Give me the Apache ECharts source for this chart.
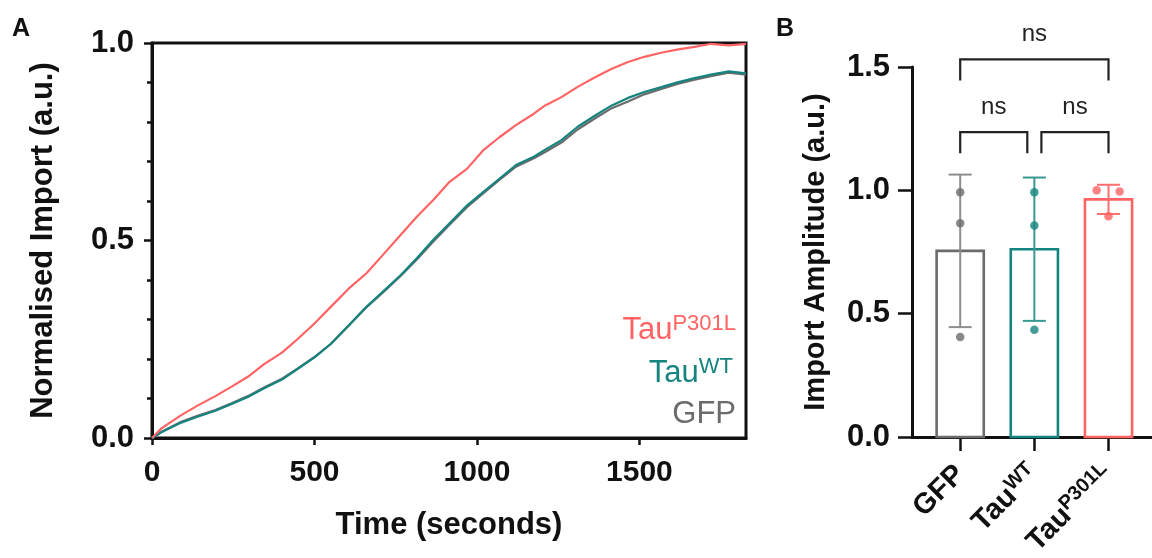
<!DOCTYPE html>
<html>
<head>
<meta charset="utf-8">
<script src="https://cdn.jsdelivr.net/npm/echarts@6/dist/echarts.min.js"></script>
<style>
  html, body { margin: 0; padding: 0; background: #fff; }
  #chart { width: 1152px; height: 558px; }
</style>
</head>
<body>
<div id="chart"></div>
<script>
// ---- Panel A: normalised import kinetics ----
const timeSec = [0, 30, 90, 140, 195, 245, 295, 345, 400, 450, 500, 550, 605, 660, 710, 765, 815, 865, 915,
  970, 1020, 1070, 1120, 1175, 1210, 1260, 1310, 1365, 1415, 1465, 1515, 1570, 1620, 1670, 1720, 1775, 1828];
const importP301L = [0, 0.025, 0.058, 0.082, 0.106, 0.130, 0.155, 0.187, 0.216, 0.252, 0.290, 0.332, 0.378,
  0.417, 0.463, 0.514, 0.560, 0.602, 0.648, 0.682, 0.729, 0.762, 0.792, 0.821, 0.842, 0.863, 0.889, 0.914,
  0.935, 0.952, 0.965, 0.976, 0.984, 0.990, 0.998, 0.994, 0.998];
const importWT = [0, 0.015, 0.039, 0.054, 0.069, 0.086, 0.104, 0.126, 0.148, 0.176, 0.204, 0.238, 0.285,
  0.332, 0.370, 0.412, 0.455, 0.501, 0.543, 0.589, 0.623, 0.657, 0.691, 0.712, 0.730, 0.754, 0.788, 0.817,
  0.842, 0.861, 0.876, 0.889, 0.901, 0.911, 0.920, 0.928, 0.923];
const importGFP = [0, 0.016, 0.041, 0.056, 0.071, 0.088, 0.106, 0.128, 0.150, 0.177, 0.205, 0.238, 0.284,
  0.331, 0.368, 0.410, 0.452, 0.497, 0.539, 0.585, 0.620, 0.654, 0.687, 0.708, 0.724, 0.748, 0.781, 0.810,
  0.835, 0.852, 0.870, 0.884, 0.897, 0.907, 0.916, 0.925, 0.920];
const xTicksA = [0, 500, 1000, 1500];
const yTicksA = [0, 0.5, 1.0];

// ---- Panel B: import amplitude per replicate ----
const groupLabels = [['GFP', ''], ['Tau', 'WT'], ['Tau', 'P301L']];
const ampGFP = [0.992, 0.867, 0.405];
const ampWT = [0.992, 0.857, 0.435];
const ampP301L = [1.000, 0.995, 0.895];
const comparisons = [[0, 1, 'ns'], [1, 2, 'ns'], [0, 2, 'ns']];
const yTicksB = [0, 0.5, 1.0, 1.5];

// ---- styling ----
const FONT = '"Liberation Sans", Arial, Helvetica, sans-serif';
const INK = '#111111';
const COL = { gfp: '#6b6b6b', wt: '#15847e', p301l: '#ff6363' };
const ERR = { gfp: '#8d8d8d', wt: '#3a9893', p301l: '#ff6f6f' };
const groupKeys = ['gfp', 'wt', 'p301l'];
const replicates = [ampGFP, ampWT, ampP301L];

const pairs = (xs, ys) => xs.map((x, i) => [x, ys[i]]);
const mean = a => a.reduce((s, v) => s + v, 0) / a.length;
const sd = a => { const m = mean(a); return Math.sqrt(a.reduce((s, v) => s + (v - m) * (v - m), 0) / (a.length - 1)); };

const barStats = replicates.map((a, i) => [i, mean(a), sd(a)]);

// spread replicate dots that would sit on top of each other
const dotData = [];
replicates.forEach((vals, gi) => {
  vals.forEach((v, k) => {
    const close = vals.map((w, m) => m).filter(m => Math.abs(vals[m] - v) < 0.03);
    let off = 0;
    if (close.length > 1) off = close.indexOf(k) === 0 ? -0.16 : 0.15;
    dotData.push({ value: [gi + off, v], itemStyle: { color: COL[groupKeys[gi]] } });
  });
});

const bracketLevel = { 1: 1.236, 2: 1.531 };
const legDrop = 0.086;
const innerInset = 0.095;

const tickFmt = v => v.toFixed(1);

const chart = echarts.init(document.getElementById('chart'), null, { renderer: 'canvas' });

chart.setOption({
  animation: false,
  backgroundColor: '#ffffff',
  textStyle: { fontFamily: FONT },
  grid: [
    { left: 152, top: 43, width: 594, height: 395, show: true, borderColor: INK, borderWidth: 3,
      backgroundColor: 'transparent', outerBoundsMode: 'none', containLabel: false },
    { left: 912, top: 67, width: 241, height: 370, outerBoundsMode: 'none', containLabel: false }
  ],
  xAxis: [
    {
      gridIndex: 0, type: 'value', min: 0, max: 1828,
      name: 'Time (seconds)', nameLocation: 'middle', nameGap: 72,
      nameTextStyle: { fontFamily: FONT, fontWeight: 'bold', fontSize: 31, color: INK },
      axisLine: { show: true, onZero: false, lineStyle: { color: INK, width: 3 } },
      axisTick: { show: true, length: 7, customValues: xTicksA, lineStyle: { color: INK, width: 2.5 } },
      axisLabel: { customValues: xTicksA, formatter: v => String(v), margin: 20, fontFamily: FONT, fontWeight: 'bold', fontSize: 30, color: INK },
      splitLine: { show: false }
    },
    {
      gridIndex: 1, type: 'value', min: -0.65, max: 2.6,
      axisLine: { show: true, onZero: false, lineStyle: { color: INK, width: 3 } },
      axisTick: { show: true, length: 14, customValues: [0, 1, 2], lineStyle: { color: INK, width: 2.5 } },
      axisLabel: {
        customValues: [0, 1, 2], rotate: 45, margin: 33,
        formatter: v => {
          const [base, sup] = groupLabels[Math.round(v)];
          return sup ? '{b|' + base + '}{s|' + sup + '}' : '{b|' + base + '}';
        },
        rich: {
          b: { fontFamily: FONT, fontWeight: 'bold', fontSize: 29, color: INK, lineHeight: 33 },
          s: { fontFamily: FONT, fontWeight: 'bold', fontSize: 20, color: INK, lineHeight: 24, verticalAlign: 'top' }
        }
      },
      splitLine: { show: false }
    }
  ],
  yAxis: [
    {
      gridIndex: 0, type: 'value', min: 0, max: 1, interval: 0.5,
      name: 'Normalised Import (a.u.)', nameLocation: 'middle', nameGap: 93,
      nameTextStyle: { fontFamily: FONT, fontWeight: 'bold', fontSize: 31, color: INK },
      axisLine: { show: true, onZero: false, lineStyle: { color: INK, width: 3 } },
      axisTick: { show: true, length: 8, lineStyle: { color: INK, width: 2.5 } },
      minorTick: { show: true, splitNumber: 5, length: 5, lineStyle: { color: INK, width: 2.5 } },
      axisLabel: { customValues: yTicksA, formatter: tickFmt, margin: 18, fontFamily: FONT, fontWeight: 'bold', fontSize: 31, color: INK },
      splitLine: { show: false }, minorSplitLine: { show: false }
    },
    {
      gridIndex: 1, type: 'value', min: 0, max: 1.5, interval: 0.5,
      name: 'Import Amplitude (a.u.)', nameLocation: 'middle', nameGap: 82,
      nameTextStyle: { fontFamily: FONT, fontWeight: 'bold', fontSize: 29, color: INK },
      axisLine: { show: true, onZero: false, lineStyle: { color: INK, width: 3 } },
      axisTick: { show: true, length: 14, lineStyle: { color: INK, width: 2.5 } },
      axisLabel: { customValues: yTicksB, formatter: tickFmt, margin: 22, fontFamily: FONT, fontWeight: 'bold', fontSize: 31, color: INK },
      splitLine: { show: false }
    }
  ],
  graphic: [
    { type: 'text', x: 12, y: 29, style: { text: 'A', font: 'bold 25px ' + FONT, fill: INK, verticalAlign: 'middle' } },
    { type: 'text', x: 776, y: 29, style: { text: 'B', font: 'bold 25px ' + FONT, fill: INK, verticalAlign: 'middle' } },
    {
      type: 'text', x: 736, y: 330, z: 10,
      style: {
        text: '{m|Tau}{s|P301L}', align: 'right', verticalAlign: 'middle',
        rich: {
          m: { fontFamily: FONT, fontSize: 31, fill: COL.p301l, lineHeight: 34 },
          s: { fontFamily: FONT, fontSize: 22, fill: COL.p301l, lineHeight: 26, verticalAlign: 'top' }
        }
      }
    },
    {
      type: 'text', x: 733, y: 373, z: 10,
      style: {
        text: '{m|Tau}{s|WT}', align: 'right', verticalAlign: 'middle',
        rich: {
          m: { fontFamily: FONT, fontSize: 31, fill: COL.wt, lineHeight: 34 },
          s: { fontFamily: FONT, fontSize: 22, fill: COL.wt, lineHeight: 26, verticalAlign: 'top' }
        }
      }
    },
    {
      type: 'text', x: 736, y: 414, z: 10,
      style: { text: 'GFP', font: '31px ' + FONT, fill: COL.gfp, align: 'right', verticalAlign: 'middle' }
    }
  ],
  series: [
    {
      name: 'GFP', type: 'line', xAxisIndex: 0, yAxisIndex: 0, data: pairs(timeSec, importGFP),
      showSymbol: false, lineStyle: { color: COL.gfp, width: 2.2 }, itemStyle: { color: COL.gfp }, z: 2
    },
    {
      name: 'TauWT', type: 'line', xAxisIndex: 0, yAxisIndex: 0, data: pairs(timeSec, importWT),
      showSymbol: false, lineStyle: { color: COL.wt, width: 2.2 }, itemStyle: { color: COL.wt }, z: 3
    },
    {
      name: 'TauP301L', type: 'line', xAxisIndex: 0, yAxisIndex: 0, data: pairs(timeSec, importP301L),
      showSymbol: false, lineStyle: { color: COL.p301l, width: 2.2 }, itemStyle: { color: COL.p301l }, z: 4
    },
    {
      // hollow mean bars with SD error bars
      name: 'amplitude', type: 'custom', xAxisIndex: 1, yAxisIndex: 1, data: barStats, z: 2,
      renderItem: (params, api) => {
        const i = api.value(0), m = api.value(1), s = api.value(2);
        const key = groupKeys[i];
        const p0 = api.coord([i - 0.318, m]);
        const p1 = api.coord([i + 0.318, 0]);
        const top = api.coord([i, m + s]);
        const bot = api.coord([i, m - s]);
        const capHalf = 11.5;
        const errStyle = { stroke: ERR[key], lineWidth: 2 };
        return {
          type: 'group',
          children: [
            { type: 'rect', shape: { x: p0[0], y: p0[1], width: p1[0] - p0[0], height: p1[1] - p0[1] },
              style: { fill: 'none', stroke: COL[key], lineWidth: 2.6 } },
            { type: 'line', shape: { x1: top[0], y1: top[1], x2: bot[0], y2: bot[1] }, style: errStyle },
            { type: 'line', shape: { x1: top[0] - capHalf, y1: top[1], x2: top[0] + capHalf, y2: top[1] }, style: errStyle },
            { type: 'line', shape: { x1: bot[0] - capHalf, y1: bot[1], x2: bot[0] + capHalf, y2: bot[1] }, style: errStyle }
          ]
        };
      }
    },
    {
      name: 'replicates', type: 'scatter', xAxisIndex: 1, yAxisIndex: 1, data: dotData,
      symbol: 'circle', symbolSize: 8.5, z: 5
    },
    {
      // significance brackets
      name: 'comparisons', type: 'custom', xAxisIndex: 1, yAxisIndex: 1, clip: false, z: 6,
      data: comparisons.map(c => [c[0], c[1]]),
      renderItem: (params, api) => {
        const [a, b, label] = comparisons[params.dataIndex];
        const span = b - a;
        const y = bracketLevel[span];
        const adj = comparisons.filter(c => c[1] - c[0] === 1);
        let lx = a, rx = b;
        if (span === 1) {
          if (adj.some(c => c[1] === a)) lx += innerInset;
          if (adj.some(c => c[0] === b)) rx -= innerInset;
        }
        const pts = [[lx, y - legDrop], [lx, y], [rx, y], [rx, y - legDrop]].map(p => api.coord(p));
        const tp = api.coord([(a + b) / 2 + (span === 1 ? (lx - a - (b - rx)) / 2 : 0), y + 0.1]);
        return {
          type: 'group',
          children: [
            { type: 'polyline', shape: { points: pts }, style: { stroke: '#222222', lineWidth: 2.2, fill: 'none' } },
            { type: 'text', style: { text: label, x: tp[0], y: tp[1], align: 'center', verticalAlign: 'middle',
                font: '24px ' + FONT, fill: '#222222' } }
          ]
        };
      }
    }
  ]
});
</script>
</body>
</html>
